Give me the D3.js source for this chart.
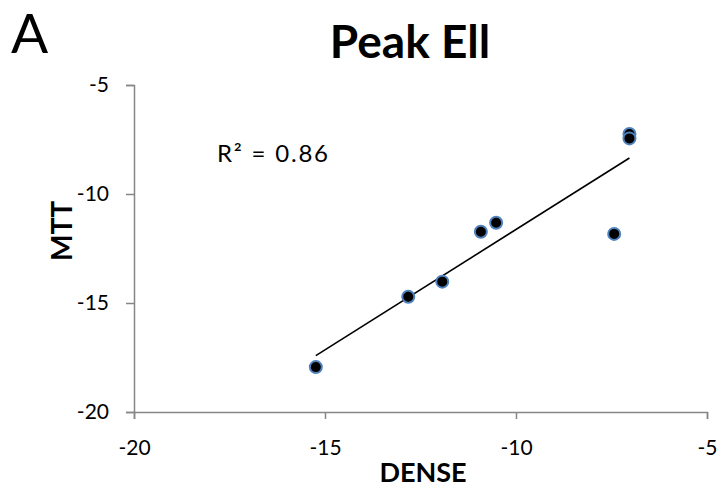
<!DOCTYPE html>
<html>
<head>
<meta charset="utf-8">
<script src="https://cdn.jsdelivr.net/npm/d3@7"></script>
<style>
  html, body { margin: 0; padding: 0; background: #fff; }
  svg text { font-family: Lato, "Open Sans", sans-serif; fill: #000; }
</style>
</head>
<body>
<svg id="chart" width="721" height="487"></svg>
<script>
// Peak Ell strain: DENSE vs MTT
const dense = [-15.24, -12.82, -11.93, -10.92, -10.52, -7.03, -7.03, -7.43];
const mtt   = [-17.94, -14.71, -14.02, -11.73, -11.32, -7.25, -7.45, -11.83];
const xTicks = [-20, -15, -10, -5];
const yTicks = [-20, -15, -10, -5];
const rSquaredLabel = "R² = 0.86";

const svg = d3.select("#chart");
const margin = { left: 134, right: 14, top: 85, bottom: 75 };
const W = 721, H = 487;

const x = d3.scaleLinear().domain([-20, -5]).range([margin.left, W - margin.right]);
const y = d3.scaleLinear().domain([-20, -5]).range([H - margin.bottom, margin.top]);

const axisColor = "#868686";
const fmt = d => String(d);   // plain hyphen-minus

// Axes
const gx = svg.append("g")
  .attr("transform", `translate(0,${y(-20)})`)
  .call(d3.axisBottom(x).tickValues(xTicks).tickSize(7).tickPadding(21).tickFormat(fmt));
const gy = svg.append("g")
  .attr("transform", `translate(${x(-20)},0)`)
  .call(d3.axisLeft(y).tickValues(yTicks).tickSize(8).tickPadding(17).tickFormat(fmt));

[gx, gy].forEach(g => {
  g.select(".domain").attr("stroke", axisColor).attr("stroke-width", 1.5);
  g.selectAll(".tick line").attr("stroke", axisColor).attr("stroke-width", 1.5);
  g.selectAll(".tick text").attr("font-size", 21).attr("fill", "#000")
    .style("font-family", "Lato, 'Open Sans', sans-serif");
});

// Linear least-squares trendline
const n = dense.length;
const mx = d3.mean(dense), my = d3.mean(mtt);
let sxy = 0, sxx = 0;
for (let i = 0; i < n; i++) {
  sxy += (dense[i] - mx) * (mtt[i] - my);
  sxx += (dense[i] - mx) ** 2;
}
const slope = sxy / sxx;
const intercept = my - slope * mx;
const [xmin, xmax] = d3.extent(dense);

svg.append("line")
  .attr("x1", x(xmin)).attr("y1", y(slope * xmin + intercept))
  .attr("x2", x(xmax)).attr("y2", y(slope * xmax + intercept))
  .attr("stroke", "#000").attr("stroke-width", 1.6);

// Data points
svg.append("g").selectAll("circle")
  .data(dense.map((d, i) => [d, mtt[i]]))
  .join("circle")
  .attr("cx", d => x(d[0]))
  .attr("cy", d => y(d[1]))
  .attr("r", 6)
  .attr("fill", "#000")
  .attr("stroke", "#4f81bd")
  .attr("stroke-width", 2);

// Labels
svg.append("text").attr("x", 217).attr("y", 162).attr("font-size", 24)
  .attr("textLength", 111).attr("lengthAdjust", "spacing").text(rSquaredLabel);

svg.append("text").attr("x", 410).attr("y", 58).attr("text-anchor", "middle")
  .attr("font-size", 46).attr("font-weight", "bold").text("Peak Ell");

svg.append("text").attr("x", 11).attr("y", 53).attr("font-size", 55).attr("font-weight", 400).text("A");

svg.append("text").attr("x", 423).attr("y", 482).attr("text-anchor", "middle")
  .attr("font-size", 27).attr("font-weight", "bold").text("DENSE");

svg.append("text")
  .attr("transform", "translate(72,231) rotate(-90)")
  .attr("text-anchor", "middle")
  .attr("font-size", 28).attr("font-weight", "bold").text("MTT");
</script>
</body>
</html>
